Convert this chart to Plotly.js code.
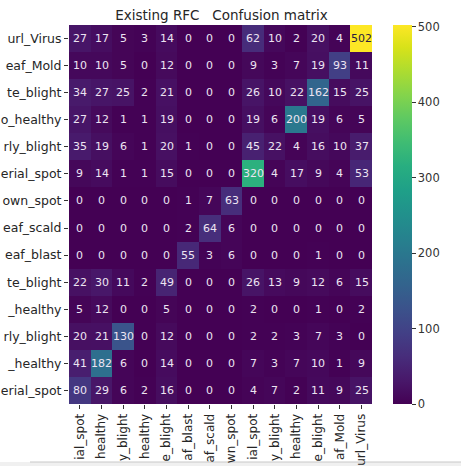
<!DOCTYPE html>
<html>
<head>
<meta charset="utf-8">
<script src="https://cdn.plot.ly/plotly-3.0.1.min.js"></script>
<style>html,body{margin:0;padding:0;background:#fff;}#chart{width:461px;height:466px;}</style>
</head>
<body>
<div id="chart"></div>
<script>
// Class labels (first = bottom row / left column)
var labels = [
  "Pepper__bell___Bacterial_spot",
  "Pepper__bell___healthy",
  "Potato___Early_blight",
  "Potato___healthy",
  "Potato___Late_blight",
  "Rice_Leaf_blast",
  "Rice_Leaf_scald",
  "Rice_Brown_spot",
  "Tomato_Bacterial_spot",
  "Tomato_Early_blight",
  "Tomato_healthy",
  "Tomato_Late_blight",
  "Tomato_Leaf_Mold",
  "Tomato__Tomato_YellowLeaf__Curl_Virus"
];
// Tick label text as visible (cropped) in the picture
var yTickText = ["erial_spot", "_healthy", "rly_blight", "_healthy", "te_blight", "eaf_blast",
  "eaf_scald", "own_spot", "erial_spot", "rly_blight", "o_healthy", "te_blight", "eaf_Mold", "url_Virus"];
var xTickText = ["ial_spot", "healthy", "y_blight", "healthy", "e_blight", "af_blast",
  "af_scald", "wn_spot", "ial_spot", "y_blight", "healthy", "e_blight", "af_Mold", "url_Virus"];

// Confusion matrix rows as displayed, top to bottom
var row_Curl_Virus      = [27, 17, 5, 3, 14, 0, 0, 0, 62, 10, 2, 20, 4, 502];
var row_Leaf_Mold       = [10, 10, 5, 0, 12, 0, 0, 0, 9, 3, 7, 19, 93, 11];
var row_T_Late_blight   = [34, 27, 25, 2, 21, 0, 0, 0, 26, 10, 22, 162, 15, 25];
var row_T_healthy       = [27, 12, 1, 1, 19, 0, 0, 0, 19, 6, 200, 19, 6, 5];
var row_T_Early_blight  = [35, 19, 6, 1, 20, 1, 0, 0, 45, 22, 4, 16, 10, 37];
var row_T_Bact_spot     = [9, 14, 1, 1, 15, 0, 0, 0, 320, 4, 17, 9, 4, 53];
var row_Brown_spot      = [0, 0, 0, 0, 0, 1, 7, 63, 0, 0, 0, 0, 0, 0];
var row_Leaf_scald      = [0, 0, 0, 0, 0, 2, 64, 6, 0, 0, 0, 0, 0, 0];
var row_Leaf_blast      = [0, 0, 0, 0, 0, 55, 3, 6, 0, 0, 0, 1, 0, 0];
var row_P_Late_blight   = [22, 30, 11, 2, 49, 0, 0, 0, 26, 13, 9, 12, 6, 15];
var row_P_healthy       = [5, 12, 0, 0, 5, 0, 0, 0, 2, 0, 0, 1, 0, 2];
var row_P_Early_blight  = [20, 21, 130, 0, 12, 0, 0, 0, 2, 2, 3, 7, 3, 0];
var row_Pe_healthy      = [41, 182, 6, 0, 14, 0, 0, 0, 7, 3, 7, 10, 1, 9];
var row_Pe_Bact_spot    = [80, 29, 6, 2, 16, 0, 0, 0, 4, 7, 2, 11, 9, 25];

var rowsTopDown = [row_Curl_Virus, row_Leaf_Mold, row_T_Late_blight, row_T_healthy,
  row_T_Early_blight, row_T_Bact_spot, row_Brown_spot, row_Leaf_scald, row_Leaf_blast,
  row_P_Late_blight, row_P_healthy, row_P_Early_blight, row_Pe_healthy, row_Pe_Bact_spot];

var colorbarTicks = [0, 100, 200, 300, 400, 500];

var z = rowsTopDown.slice().reverse();
var zmax = 502;

var annotations = [];
for (var i = 0; i < z.length; i++) {
  for (var j = 0; j < z[i].length; j++) {
    annotations.push({
      x: labels[j], y: labels[i], xref: 'x', yref: 'y',
      text: String(z[i][j]), showarrow: false,
      font: {family: 'DejaVu Sans', size: 11, color: z[i][j] / zmax > 0.8 ? '#2a1a40' : '#ede4f2'}
    });
  }
}

var L = 69, R = 374, T = 25, B = 404, W = 461, H = 466;
function px(x) { return (x - L) / (R - L); }
function py(y) { return (B - y) / (B - T); }

var trace = {
  type: 'heatmap',
  x: labels, y: labels, z: z,
  zmin: 0, zmax: zmax,
  colorscale: 'Viridis',
  hoverinfo: 'skip',
  colorbar: {
    x: px(393), xanchor: 'left', xpad: 0,
    y: 0, yanchor: 'bottom', ypad: 0,
    len: 1, lenmode: 'fraction',
    thickness: 19, thicknessmode: 'pixels',
    outlinewidth: 0,
    tickmode: 'array', tickvals: colorbarTicks,
    ticks: 'outside', ticklen: 4, tickwidth: 1, tickcolor: '#333',
    tickfont: {family: 'DejaVu Sans', size: 11.5, color: '#333'}
  }
};

var layout = {
  width: W, height: H,
  margin: {l: L, r: W - R, t: T, b: H - B, pad: 0},
  paper_bgcolor: '#fff', plot_bgcolor: '#fff',
  font: {family: 'DejaVu Sans', color: '#262626'},
  title: {
    text: 'Existing RFC\u00a0\u00a0\u00a0Confusion matrix',
    font: {family: 'DejaVu Sans', size: 13.5, color: '#262626'},
    x: 0.5, xref: 'paper', xanchor: 'center',
    y: (H - 15) / H, yref: 'container', yanchor: 'middle'
  },
  xaxis: {
    type: 'category', automargin: false, showgrid: false, zeroline: false, showline: false,
    tickmode: 'array', tickvals: labels, ticktext: xTickText,
    ticks: 'outside', ticklen: 4, tickwidth: 1, tickcolor: '#333', tickangle: -90,
    tickfont: {family: 'DejaVu Sans', size: 12, color: '#262626'}
  },
  yaxis: {
    type: 'category', automargin: false, showgrid: false, zeroline: false, showline: false,
    tickmode: 'array', tickvals: labels, ticktext: yTickText,
    ticks: 'outside', ticklen: 4, tickwidth: 1, tickcolor: '#333',
    tickfont: {family: 'DejaVu Sans', size: 12.5, color: '#262626'}
  },
  annotations: annotations,
  shapes: [
    {type: 'rect', xref: 'paper', yref: 'paper', layer: 'below',
     x0: px(0), x1: px(W), y0: py(462), y1: py(H + 2),
     fillcolor: '#f0f0f0', line: {width: 0}},
    {type: 'line', xref: 'paper', yref: 'paper', layer: 'below',
     x0: px(30), x1: px(W), y0: py(462), y1: py(462),
     line: {color: '#c8c8c8', width: 1}}
  ]
};

Plotly.newPlot('chart', [trace], layout, {displayModeBar: false, staticPlot: true});
</script>
</body>
</html>
